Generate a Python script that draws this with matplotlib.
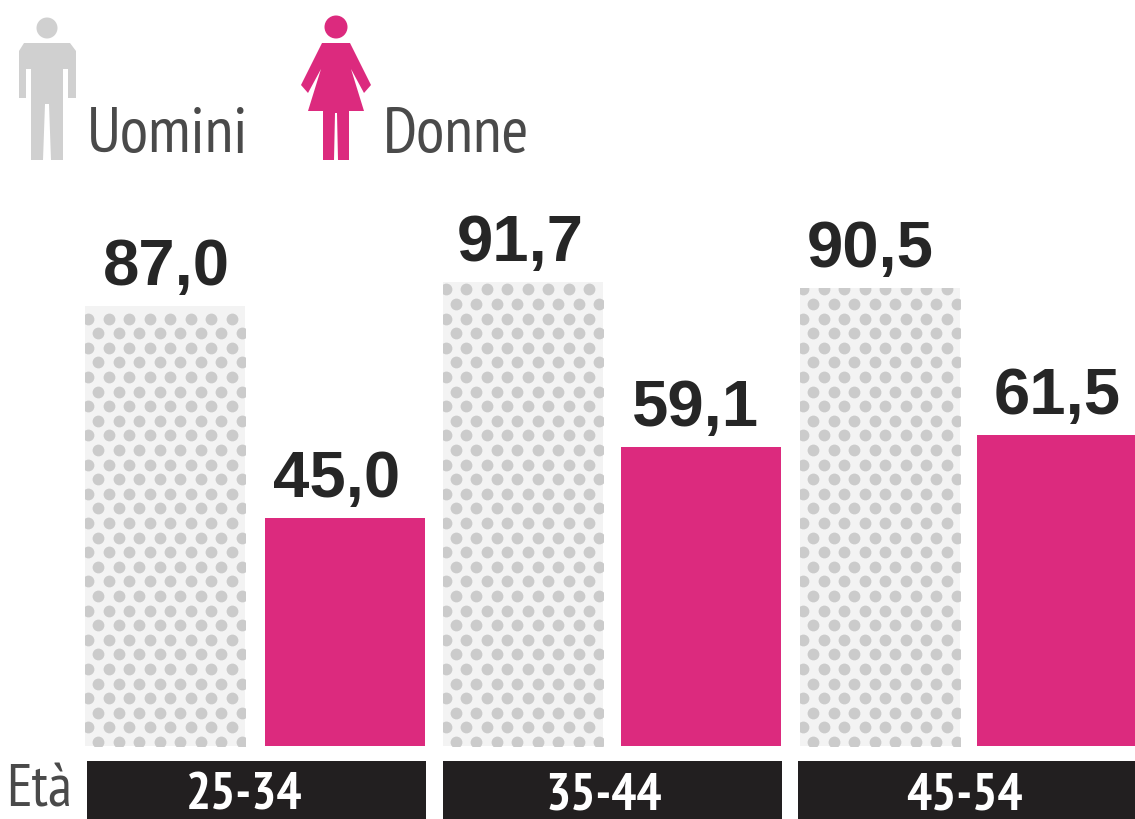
import matplotlib.pyplot as plt
import matplotlib.font_manager as fm
from matplotlib.patches import Polygon, Circle, Rectangle

eta = ["25-34", "35-44", "45-54"]
uomini = [87.0, 91.7, 90.5]
donne = [45.0, 59.1, 61.5]

ROSA = "#dc2a7e"
GRIGIO = "#d0d0d0"
NERO = "#221f20"
TESTO = "#262626"
TESTO_CHIARO = "#4a4a4a"

# primo carattere stretto disponibile
nomi = {f.name for f in fm.fontManager.ttflist}
STRETTO = "Liberation Sans"
for nome in ["PT Sans Narrow", "Pragati Narrow", "Archivo Narrow", "Liberation Sans Narrow"]:
	if nome in nomi:
		STRETTO = nome
		break

L, H = 1135, 820
BASE = 747       # pixel della base delle barre
SCALA = 5.06     # pixel per punto percentuale
LARG = 160

# centri delle etichette di valore, in pixel
CENTRI_U = [166, 520, 870]
CENTRI_D = [337, 696, 1057]


def virgola(v):
	return "{:.1f}".format(v).replace(".", ",")


fig = plt.figure(figsize=(L / 100, H / 100), dpi=100, facecolor="white")

# assi delle barre: x in pixel, y in valori
ax = fig.add_axes([0, 0, 1, 1])
ax.set_xlim(0, L)
ax.set_ylim(-(H - BASE) / SCALA, BASE / SCALA)
ax.axis("off")

# assi di servizio per icone e fasce, in pixel
sopra = fig.add_axes([0, 0, 1, 1])
sopra.set_xlim(0, L)
sopra.set_ylim(H, 0)
sopra.axis("off")
sopra.patch.set_alpha(0)

for i, gruppo in enumerate(eta):
	xu = 165 + i * 357.5
	xd = 345 + i * 356

	# barra retinata: fondo chiaro e puntini sfalsati
	sfondo = ax.bar(xu, uomini[i], width=LARG, color="#f3f3f3", linewidth=0)[0]
	dx, dy = [], []
	riga = 0
	y = 0.8
	while y < uomini[i]:
		x = xu - LARG / 2 + (3 if riga % 2 else 13)
		while x < xu + LARG / 2:
			dx.append(x)
			dy.append(y)
			x += 20.5
		y += 14.6 / SCALA
		riga += 1
	punti = ax.scatter(dx, dy, s=72, color="#cbcbcb", linewidths=0)
	punti.set_clip_path(sfondo)

	ax.bar(xd, donne[i], width=LARG, color=ROSA, linewidth=0)

	ax.text(CENTRI_U[i], uomini[i] + 4.35, virgola(uomini[i]), ha="center", va="baseline",
		family="Liberation Sans", fontweight="bold", fontsize=47, color=TESTO)
	ax.text(CENTRI_D[i], donne[i] + 4.35, virgola(donne[i]), ha="center", va="baseline",
		family="Liberation Sans", fontweight="bold", fontsize=47, color=TESTO)

	# fascia nera con la classe di età
	x0 = 87 + i * 355.5
	sopra.add_patch(Rectangle((x0, 762), 339, 58, color=NERO, linewidth=0))
	sopra.text(244 + i * 360, 797, gruppo, ha="center", va="center", family=STRETTO,
		fontweight="bold", fontsize=38, color="white")

sopra.text(6, 819, "Età", ha="left", va="bottom", family=STRETTO, fontsize=43, color=TESTO_CHIARO)

# omino
sopra.add_patch(Circle((47, 29), 10.5, color=GRIGIO, linewidth=0))
sopra.add_patch(Polygon([(24, 44), (70, 44), (76, 52), (76, 99), (68, 99), (68, 70),
	(63, 70), (63, 161), (51, 161), (49, 105), (45, 105), (43, 161), (31, 161), (31, 70),
	(26, 70), (26, 99), (19, 99), (19, 52)], color=GRIGIO, linewidth=0))
sopra.text(87, 152, "Uomini", ha="left", va="baseline", family=STRETTO, fontsize=47, color=TESTO_CHIARO)

# donnina
sopra.add_patch(Circle((336, 28), 11.5, color=ROSA, linewidth=0))
sopra.add_patch(Polygon([(322, 44), (350, 44), (371, 86), (364, 94), (351, 70), (364, 112),
	(349, 112), (349, 161), (338, 161), (337, 114), (335, 114), (334, 161),
	(323, 161), (323, 112), (308, 112), (321, 70), (308, 94), (301, 86)],
	color=ROSA, linewidth=0))
sopra.text(383, 152, "Donne", ha="left", va="baseline", family=STRETTO, fontsize=47, color=TESTO_CHIARO)

fig.savefig("out.png", dpi=100)
